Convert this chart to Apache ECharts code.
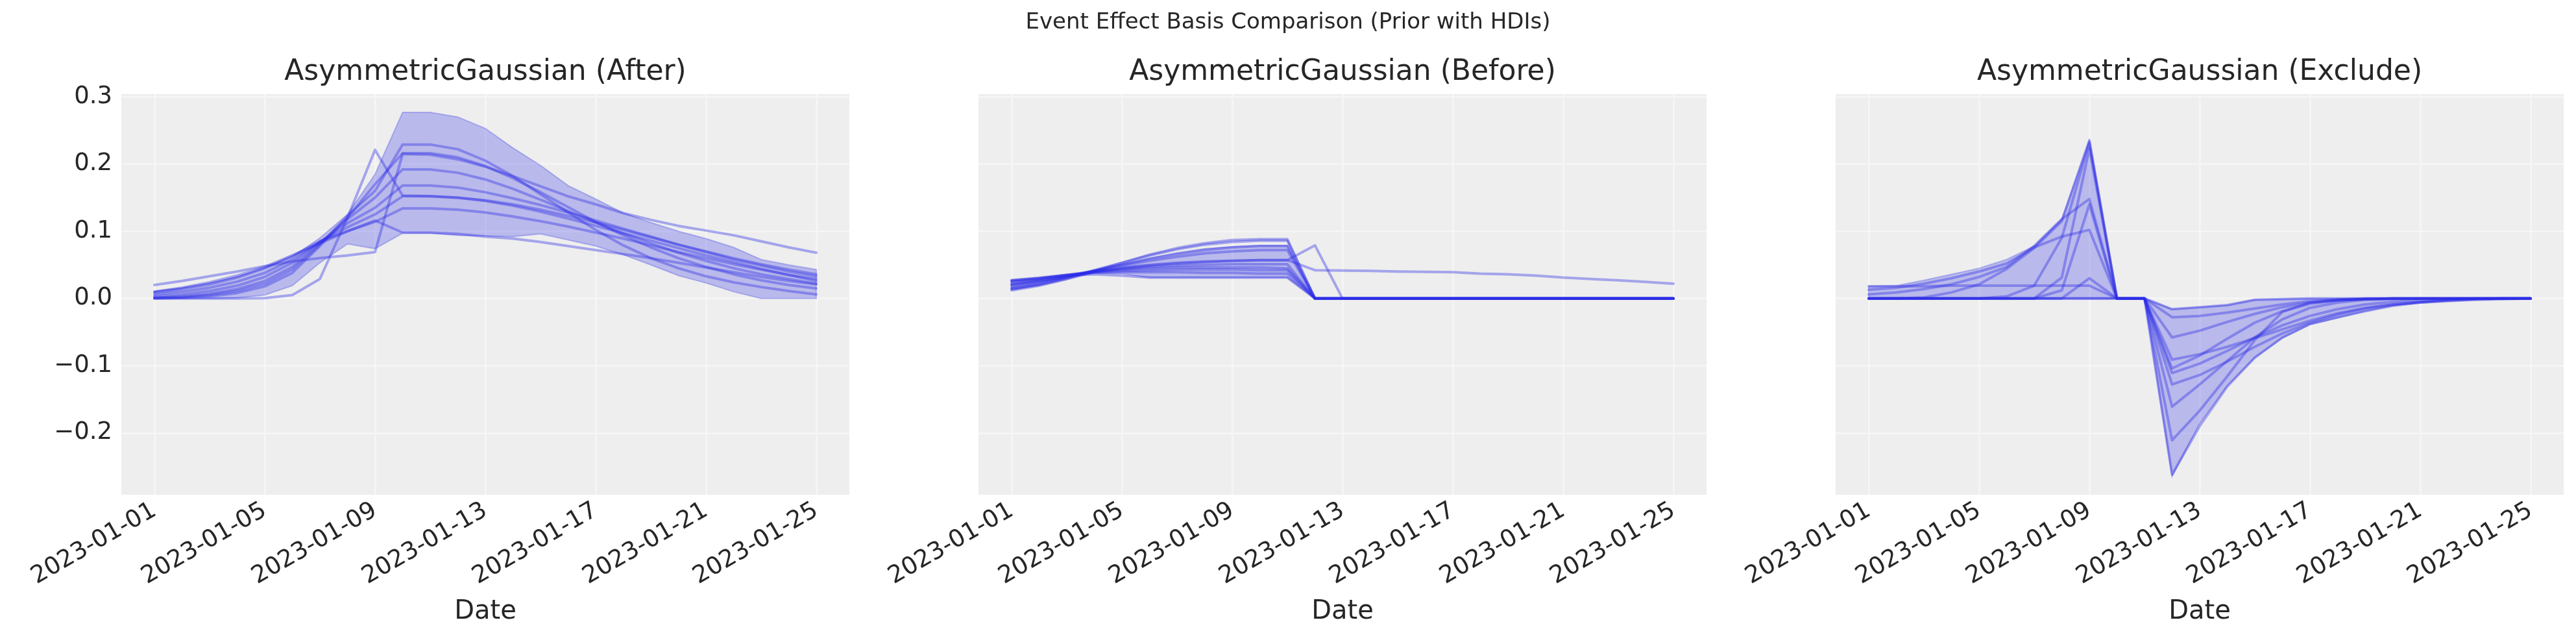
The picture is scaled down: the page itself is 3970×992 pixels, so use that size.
<!DOCTYPE html>
<html>
<head>
<meta charset="utf-8">
<title>Event Effect Basis Comparison</title>
<script src="https://cdn.jsdelivr.net/npm/echarts@6/dist/echarts.min.js"></script>
<style>
    html, body { margin: 0; padding: 0; background: #ffffff; }
    #chart { width: 3970px; height: 992px; }
</style>
</head>
<body>
<div id="chart"></div>
<script>
/* data start */
const dates = ['2023-01-01', '2023-01-02', '2023-01-03', '2023-01-04', '2023-01-05', '2023-01-06', '2023-01-07',
    '2023-01-08', '2023-01-09', '2023-01-10', '2023-01-11', '2023-01-12', '2023-01-13', '2023-01-14', '2023-01-15',
    '2023-01-16', '2023-01-17', '2023-01-18', '2023-01-19', '2023-01-20', '2023-01-21', '2023-01-22', '2023-01-23',
    '2023-01-24', '2023-01-25']
const xTicks = [0, 4, 8, 12, 16, 20, 24]   // index in dates
const yTicks = [-0.2, -0.1, 0, 0.1, 0.2, 0.3]
const panelTitles = ['AsymmetricGaussian (After)', 'AsymmetricGaussian (Before)', 'AsymmetricGaussian (Exclude)']

// After
const afterUpper = [0.011, 0.016, 0.023, 0.032, 0.045, 0.062, 0.09, 0.125, 0.185, 0.277, 0.277, 0.27, 0.253, 0.224, 0.198, 0.168, 0.148, 0.127, 0.113, 0.1, 0.089, 0.076, 0.058, 0.05, 0.043]
const afterLower = [0, 0, 0, 0.001, 0.005, 0.019, 0.053, 0.081, 0.074, 0.097, 0.097, 0.094, 0.093, 0.092, 0.096, 0.087, 0.078, 0.065, 0.05, 0.034, 0.023, 0.01, 0, 0, 0]
const afterLines = [
    [0.001, 0.002, 0.005, 0.011, 0.022, 0.043, 0.08, 0.123, 0.16, 0.229, 0.229, 0.222, 0.205, 0.182, 0.155, 0.128, 0.102, 0.079, 0.06, 0.045, 0.033, 0.024, 0.017, 0.011, 0.006],
    [0, 0.001, 0.003, 0.008, 0.018, 0.038, 0.078, 0.12, 0.17, 0.216, 0.216, 0.21, 0.197, 0.179, 0.158, 0.136, 0.114, 0.094, 0.076, 0.06, 0.047, 0.036, 0.027, 0.02, 0.015],
    [0.02, 0.026, 0.033, 0.04, 0.048, 0.055, 0.06, 0.064, 0.069, 0.215, 0.214, 0.207, 0.196, 0.182, 0.167, 0.152, 0.14, 0.127, 0.117, 0.108, 0.101, 0.094, 0.085, 0.076, 0.068],
    [0.001, 0.003, 0.007, 0.014, 0.026, 0.047, 0.082, 0.118, 0.15, 0.192, 0.192, 0.187, 0.177, 0.163, 0.147, 0.13, 0.113, 0.097, 0.082, 0.068, 0.056, 0.045, 0.036, 0.029, 0.022],
    [0.003, 0.006, 0.011, 0.019, 0.032, 0.053, 0.084, 0.112, 0.135, 0.168, 0.168, 0.165, 0.158, 0.149, 0.139, 0.128, 0.116, 0.104, 0.092, 0.08, 0.069, 0.058, 0.049, 0.04, 0.033],
    [0, 0, 0, 0, 0.0005, 0.005, 0.029, 0.12, 0.221, 0.153, 0.152, 0.15, 0.146, 0.14, 0.132, 0.123, 0.113, 0.102, 0.091, 0.08, 0.07, 0.06, 0.051, 0.043, 0.036],
    [0.006, 0.01, 0.016, 0.025, 0.038, 0.058, 0.084, 0.106, 0.125, 0.152, 0.152, 0.15, 0.145, 0.138, 0.129, 0.119, 0.108, 0.097, 0.086, 0.075, 0.064, 0.054, 0.044, 0.035, 0.026],
    [0.009, 0.014, 0.021, 0.031, 0.045, 0.063, 0.085, 0.1, 0.114, 0.134, 0.134, 0.132, 0.128, 0.122, 0.115, 0.107, 0.098, 0.089, 0.079, 0.069, 0.06, 0.051, 0.043, 0.035, 0.029],
    [0.01, 0.016, 0.024, 0.034, 0.047, 0.064, 0.082, 0.1, 0.116, 0.098, 0.098, 0.096, 0.092, 0.089, 0.084, 0.078, 0.072, 0.066, 0.06, 0.053, 0.046, 0.039, 0.032, 0.026, 0.021]
]

// Before
const beforeUpper = [0.026, 0.03, 0.035, 0.042, 0.051, 0.06, 0.068, 0.074, 0.077, 0.079, 0.079, 0, 0, 0, 0, 0, 0, 0, 0, 0, 0, 0, 0, 0, 0]
const beforeLower = [0.013, 0.019, 0.028, 0.038, 0.037, 0.031, 0.031, 0.031, 0.031, 0.031, 0.031, 0, 0, 0, 0, 0, 0, 0, 0, 0, 0, 0, 0, 0, 0]
const beforeLines = [
    [0.012, 0.019, 0.029, 0.041, 0.053, 0.065, 0.075, 0.082, 0.087, 0.088, 0.088, 0, 0, 0, 0, 0, 0, 0, 0, 0, 0, 0, 0, 0, 0],
    [0.014, 0.021, 0.031, 0.042, 0.053, 0.064, 0.073, 0.08, 0.084, 0.086, 0.086, 0, 0, 0, 0, 0, 0, 0, 0, 0, 0, 0, 0, 0, 0],
    [0.015, 0.022, 0.031, 0.041, 0.05, 0.059, 0.066, 0.072, 0.076, 0.078, 0.078, 0, 0, 0, 0, 0, 0, 0, 0, 0, 0, 0, 0, 0, 0],
    [0.017, 0.024, 0.032, 0.041, 0.049, 0.056, 0.062, 0.067, 0.07, 0.072, 0.072, 0, 0, 0, 0, 0, 0, 0, 0, 0, 0, 0, 0, 0, 0],
    [0.022, 0.027, 0.033, 0.04, 0.045, 0.049, 0.052, 0.054, 0.056, 0.057, 0.057, 0.042, 0.0415, 0.041, 0.04, 0.0395, 0.039, 0.037, 0.036, 0.034, 0.031, 0.029, 0.027, 0.0245, 0.022],
    [0.02, 0.026, 0.033, 0.04, 0.046, 0.05, 0.053, 0.055, 0.056, 0.057, 0.057, 0.079, 0, 0, 0, 0, 0, 0, 0, 0, 0, 0, 0, 0, 0],
    [0.02, 0.026, 0.032, 0.039, 0.044, 0.047, 0.049, 0.05, 0.051, 0.051, 0.051, 0, 0, 0, 0, 0, 0, 0, 0, 0, 0, 0, 0, 0, 0],
    [0.024, 0.029, 0.035, 0.04, 0.043, 0.045, 0.046, 0.046, 0.046, 0.046, 0.045, 0, 0, 0, 0, 0, 0, 0, 0, 0, 0, 0, 0, 0, 0],
    [0.026, 0.03, 0.035, 0.039, 0.041, 0.042, 0.043, 0.043, 0.043, 0.042, 0.042, 0, 0, 0, 0, 0, 0, 0, 0, 0, 0, 0, 0, 0, 0],
    [0.027, 0.031, 0.035, 0.038, 0.039, 0.039, 0.039, 0.038, 0.038, 0.037, 0.037, 0, 0, 0, 0, 0, 0, 0, 0, 0, 0, 0, 0, 0, 0],
    [0.027, 0.03, 0.034, 0.036, 0.034, 0.031, 0.031, 0.031, 0.031, 0.031, 0.031, 0, 0, 0, 0, 0, 0, 0, 0, 0, 0, 0, 0, 0, 0]
]

// Exclude
const excludeUpper = [0.018, 0.019, 0.027, 0.036, 0.045, 0.058, 0.078, 0.118, 0.235, 0, 0, -0.016, -0.013, -0.01, -0.002, -0.001, 0, 0, 0, 0, 0, 0, 0, 0, 0]
const excludeLower = [0, 0, 0, 0, 0, 0, 0, 0, 0, 0, 0, -0.265, -0.186, -0.13, -0.088, -0.059, -0.039, -0.029, -0.019, -0.011, -0.006, -0.003, -0.001, 0, 0]
const excludeLines = [
    [0, 0, 0.0015, 0.009, 0.021, 0.044, 0.075, 0.115, 0.235, 0, 0, -0.211, -0.167, -0.116, -0.062, -0.02, -0.006, -0.002, 0, 0, 0, 0, 0, 0, 0],
    [0, 0, 0, 0, 0, 0.003, 0.019, 0.09, 0.232, 0, 0, -0.104, -0.085, -0.06, -0.036, -0.019, -0.008, -0.003, -0.001, 0, 0, 0, 0, 0, 0],
    [0, 0, 0, 0, 0, 0, 0, 0.031, 0.223, 0, 0, -0.161, -0.128, -0.093, -0.058, -0.031, -0.014, -0.006, -0.002, -0.001, 0, 0, 0, 0, 0],
    [0.006, 0.009, 0.014, 0.021, 0.032, 0.047, 0.078, 0.118, 0.148, 0, 0, -0.128, -0.114, -0.094, -0.072, -0.052, -0.036, -0.024, -0.015, -0.009, -0.005, -0.003, -0.001, 0, 0],
    [0.013, 0.016, 0.022, 0.03, 0.04, 0.052, 0.076, 0.092, 0.102, 0, 0, -0.091, -0.083, -0.072, -0.059, -0.046, -0.033, -0.022, -0.014, -0.009, -0.006, -0.004, -0.002, -0.001, 0],
    [0.018, 0.018, 0.018, 0.019, 0.019, 0.019, 0.019, 0.019, 0.019, 0, 0, -0.028, -0.026, -0.021, -0.015, -0.009, -0.004, -0.002, -0.001, 0, 0, 0, 0, 0, 0],
    [0, 0, 0, 0, 0, 0, 0, 0, 0.03, 0, 0, -0.058, -0.048, -0.035, -0.023, -0.013, -0.006, -0.003, -0.001, 0, 0, 0, 0, 0, 0],
    [0, 0, 0, 0, 0, 0, 0, 0.012, 0.14, 0, 0, -0.111, -0.097, -0.078, -0.058, -0.04, -0.026, -0.016, -0.009, -0.005, -0.003, -0.001, 0, 0, 0],
    [0, 0, 0, 0, 0, 0, 0, 0, 0, 0, 0, -0.262, -0.19, -0.131, -0.088, -0.058, -0.038, -0.028, -0.019, -0.011, -0.006, -0.003, -0.001, 0, 0],
    [0, 0, 0, 0, 0, 0, 0, 0, 0, 0, 0, -0.016, -0.013, -0.01, -0.002, -0.001, 0, 0, 0, 0, 0, 0, 0, 0, 0]
]
/* data end */

const FONT = 'DejaVu Sans'
const TEXT_COLOR = '#262626'
const LINE_COLOR = 'rgba(45, 45, 232, 0.38)'
const FILL_COLOR = 'rgba(51, 51, 230, 0.28)'

const panelLeft = [187, 1508, 2829]
const panelWidth = 1122
const panelTop = 145
const panelHeight = 617

function fmtY(v) {
    return (v < 0 ? '\u2212' : '') + Math.abs(v).toFixed(1)
}

// HDI band drawn as one polygon: upper edge forward, lower edge back
function bandSeries(k, upper, lower) {
    return {
        type: 'custom', xAxisIndex: k, yAxisIndex: k, silent: true, clip: true, z: 2,
        data: [[0, 0]],
        renderItem: function (params, api) {
            let pts = []
            for (let i = 0; i < upper.length; i++) pts.push(api.coord([i, upper[i]]))
            for (let i = lower.length - 1; i >= 0; i--) pts.push(api.coord([i, lower[i]]))
            return {
                type: 'polygon',
                shape: {points: pts},
                style: {fill: FILL_COLOR, stroke: FILL_COLOR, lineWidth: 2}
            }
        }
    }
}

function sampleSeries(k, lines) {
    return lines.map(vals => ({
        type: 'line', xAxisIndex: k, yAxisIndex: k,
        data: vals.map((v, i) => [i, v]), symbol: 'none', silent: true, z: 3,
        lineStyle: {color: LINE_COLOR, width: 4, join: 'round', cap: 'round'}
    }))
}

let grids = [], xAxes = [], yAxes = [], series = [], graphics = []
let bands = [[afterUpper, afterLower], [beforeUpper, beforeLower], [excludeUpper, excludeLower]]
let samples = [afterLines, beforeLines, excludeLines]

for (let k = 0; k < 3; k++) {
    grids.push({
        left: panelLeft[k], top: panelTop, width: panelWidth, height: panelHeight,
        show: true, backgroundColor: '#eeeeee', borderWidth: 0, containLabel: false, outerBoundsMode: 'none'
    })
    xAxes.push({
        gridIndex: k, type: 'value', min: -1.2, max: 25.2,
        axisLine: {show: false},
        axisTick: {show: false, customValues: xTicks},
        axisLabel: {
            customValues: xTicks, rotate: 30, margin: 22, fontSize: 37, fontFamily: FONT, color: TEXT_COLOR,
            formatter: v => dates[Math.round(v)]
        },
        splitLine: {show: true, lineStyle: {color: '#f6f6f6', width: 2.5}}
    })
    yAxes.push({
        gridIndex: k, type: 'value', min: -0.292, max: 0.304,
        axisLine: {show: false},
        axisTick: {show: false, customValues: yTicks},
        axisLabel: {
            show: k === 0, customValues: yTicks, margin: 14, fontSize: 37, fontFamily: FONT, color: TEXT_COLOR,
            formatter: fmtY
        },
        splitLine: {show: true, lineStyle: {color: '#f6f6f6', width: 2.5}}
    })
    series.push(bandSeries(k, bands[k][0], bands[k][1]))
    series.push(...sampleSeries(k, samples[k]))

    let cx = panelLeft[k] + panelWidth / 2
    graphics.push({
        type: 'text', x: cx, y: 112,
        style: {text: panelTitles[k], font: '44px "DejaVu Sans"', fill: TEXT_COLOR, align: 'center', verticalAlign: 'middle'}
    })
    graphics.push({
        type: 'text', x: cx, y: 943,
        style: {text: 'Date', font: '40px "DejaVu Sans"', fill: TEXT_COLOR, align: 'center', verticalAlign: 'middle'}
    })
}

graphics.push({
    type: 'text', x: 1985, y: 35,
    style: {text: 'Event Effect Basis Comparison (Prior with HDIs)', font: '34px "DejaVu Sans"', fill: TEXT_COLOR, align: 'center', verticalAlign: 'middle'}
})

let chart = echarts.init(document.getElementById('chart'), null, {renderer: 'canvas'})
chart.setOption({
    animation: false,
    backgroundColor: '#ffffff',
    grid: grids,
    xAxis: xAxes,
    yAxis: yAxes,
    series: series,
    graphic: graphics
})
</script>
</body>
</html>
